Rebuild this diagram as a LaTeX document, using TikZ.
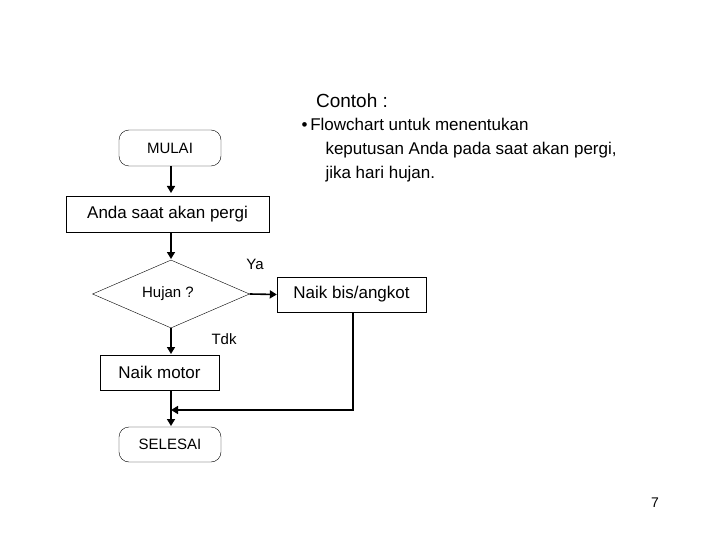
\documentclass[tikz,border=0pt]{standalone}
\usepackage{fontspec}
\setmainfont{Liberation Sans}
\usetikzlibrary{arrows.meta,shapes.geometric}
\begin{document}
\begin{tikzpicture}[x=1pt,y=-1pt,
  box/.style={draw,thin,minimum height=36pt,inner sep=0pt,font=\fontsize{17}{20}\selectfont},
  term/.style={box,rounded corners=10pt,minimum width=102pt,font=\fontsize{15}{18}\selectfont},
  conn/.style={line width=1.6pt,-{Triangle[length=7pt,width=8pt]}},
  lbl/.style={font=\fontsize{15}{18}\selectfont}]
\useasboundingbox (0,0) rectangle (720,540);
\node[font=\fontsize{19}{22}\selectfont] (title) at (352,101) {Contoh :};
\node[font=\fontsize{17}{24}\selectfont,align=left,anchor=north west] (desc) at (298,115)
  {\textbullet\,Flowchart untuk menentukan\\\hspace{24pt}keputusan Anda pada saat akan pergi,\\\hspace{24pt}jika hari hujan.};
\node[term] (mulai) at (170,148) {MULAI};
\node[box,minimum width=203pt] (anda) at (167.5,214) {Anda saat akan pergi};
\node[draw,thin,diamond,minimum width=157pt,minimum height=68pt,inner sep=0pt,aspect=2.3] (hujan) at (171,294) {};
\node[lbl] (htext) at (168,294) {Hujan ?};
\node[box,minimum width=149pt,minimum height=35pt] (bis) at (351.5,294.5) {Naik bis/angkot};
\node[box,minimum width=119pt,minimum height=35pt] (motor) at (159.5,372.5) {Naik motor};
\node[term,minimum height=35pt] (selesai) at (170,444.5) {SELESAI};
\node[lbl] (ya) at (255,264) {Ya};
\node[lbl] (tdk) at (224,339) {Tdk};
\node[font=\fontsize{14}{16}\selectfont] (pg) at (655,503) {7};
\coordinate (c1) at (353,410);
\coordinate (c2) at (171,410);
\draw[conn] (171,166) -- (171,193);
\draw[conn] (171,232) -- (171,259);
\draw[conn] (hujan.east) -- (bis.west);
\draw[conn] (hujan.south) -- (171,354);
\draw[conn] (171,390) -- (171,426);
\draw[conn] (353,312) -- (c1) -- (c2);
\end{tikzpicture}
\end{document}
